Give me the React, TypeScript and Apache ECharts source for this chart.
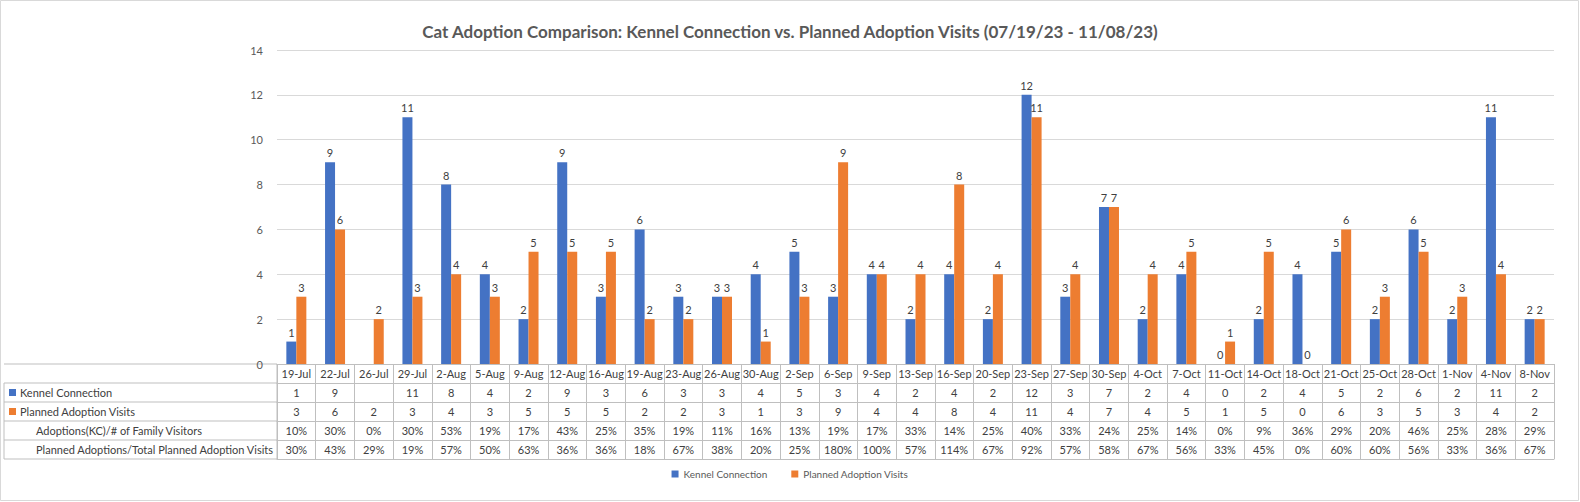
import React, { useEffect, useRef } from 'react';
import * as echarts from 'echarts';

const categories = ['19-Jul','22-Jul','26-Jul','29-Jul','2-Aug','5-Aug','9-Aug','12-Aug','16-Aug','19-Aug','23-Aug','26-Aug','30-Aug','2-Sep','6-Sep','9-Sep','13-Sep','16-Sep','20-Sep','23-Sep','27-Sep','30-Sep','4-Oct','7-Oct','11-Oct','14-Oct','18-Oct','21-Oct','25-Oct','28-Oct','1-Nov','4-Nov','8-Nov'];
const kennel = [1,9,null,11,8,4,2,9,3,6,3,3,4,5,3,4,2,4,2,12,3,7,2,4,0,2,4,5,2,6,2,11,2];
const planned = [3,6,2,3,4,3,5,5,5,2,2,3,1,3,9,4,4,8,4,11,4,7,4,5,1,5,0,6,3,5,3,4,2];
const kcRatio = ['10%','30%','0%','30%','53%','19%','17%','43%','25%','35%','19%','11%','16%','13%','19%','17%','33%','14%','25%','40%','33%','24%','25%','14%','0%','9%','36%','29%','20%','46%','25%','28%','29%'];
const plannedRatio = ['30%','43%','29%','19%','57%','50%','63%','36%','36%','18%','67%','38%','20%','25%','180%','100%','57%','114%','67%','92%','57%','58%','67%','56%','33%','45%','0%','60%','60%','56%','33%','36%','67%'];
const rowNames = ['Kennel Connection','Planned Adoption Visits','Adoptions(KC)/# of Family Visitors','Planned Adoptions/Total Planned Adoption Visits'];

const BLUE = '#4472c4';
const ORANGE = '#ed7d31';
const FONT = 'Lato, "Open Sans", sans-serif';
const LINE = '#bfbfbf';

const App: React.FC = () => {
  const ref = useRef<HTMLDivElement>(null);

  useEffect(() => {
    document.body.style.margin = '0';
    document.body.style.overflow = 'hidden';
    if (!ref.current) return;
    const chart = echarts.init(ref.current, null, { renderer: 'svg' });
    const left = 277;
    const right = 26;
    const top = 50;
    const base = 364;
    const rowH = 19;
    const rows = [
      categories,
      kennel.map((v) => (v == null ? '' : String(v))),
      planned.map(String),
      kcRatio,
      plannedRatio,
    ];
    const xAxes: any[] = rows.map((d, i) => ({
      type: 'category',
      gridIndex: 0,
      position: 'bottom',
      offset: i * rowH,
      data: i === 0 ? d : d.map((v, j) => ({ value: j + ':' + v })),
      axisLine: { show: true, lineStyle: { color: LINE } },
      axisTick: { show: true, interval: 0, length: rowH, lineStyle: { color: LINE } },
      axisLabel: {
        interval: 0,
        margin: 4,
        fontSize: 11,
        color: '#404040',
        fontFamily: FONT,
        formatter: i === 0 ? undefined : (v: string) => v.slice(v.indexOf(':') + 1),
      },
    }));
    xAxes.push({
      type: 'category',
      gridIndex: 0,
      position: 'bottom',
      offset: 5 * rowH,
      data: categories,
      axisLine: { show: true, lineStyle: { color: LINE } },
      axisTick: { show: false },
      axisLabel: { show: false },
    });

    const graphics: any[] = [];
    for (let r = 0; r <= 5; r++) {
      graphics.push({
        type: 'line',
        shape: { x1: 4, y1: base + r * rowH, x2: left, y2: base + r * rowH },
        style: { stroke: LINE, lineWidth: 1 },
      });
    }
    graphics.push({ type: 'line', shape: { x1: 4, y1: base + rowH, x2: 4, y2: base + 5 * rowH }, style: { stroke: LINE } });
    graphics.push({ type: 'line', shape: { x1: left, y1: base, x2: left, y2: base + 5 * rowH }, style: { stroke: LINE } });
    rowNames.forEach((name, i) => {
      const cy = base + (i + 1.5) * rowH;
      if (i < 2) {
        graphics.push({ type: 'rect', shape: { x: 9, y: cy - 3.5, width: 7, height: 7 }, style: { fill: i === 0 ? BLUE : ORANGE } });
      }
      graphics.push({
        type: 'text',
        x: i < 2 ? 20 : 36,
        y: cy,
        style: { text: name, fill: '#404040', font: `11px ${FONT}`, textVerticalAlign: 'middle' },
      });
    });
    graphics.push({ type: 'rect', shape: { x: 0.5, y: 0.5, width: 1578, height: 500 }, style: { fill: 'none', stroke: '#d9d9d9' } });

    const label = { show: true, position: 'top', fontSize: 11, color: '#404040', fontFamily: FONT, distance: 4 };
    chart.setOption({
      animation: false,
      textStyle: { fontFamily: FONT },
      title: {
        text: 'Cat Adoption Comparison: Kennel Connection vs. Planned Adoption Visits (07/19/23 - 11/08/23)',
        left: 'center',
        top: 18,
        textStyle: { fontSize: 17, fontWeight: 'bold', color: '#595959', fontFamily: FONT },
      },
      grid: { left, right, top, bottom: 502 - base },
      xAxis: xAxes,
      yAxis: {
        type: 'value',
        min: 0,
        max: 14,
        interval: 2,
        axisLine: { show: false },
        axisTick: { show: false },
        axisLabel: { fontSize: 11, color: '#595959', margin: 14 },
        splitLine: { lineStyle: { color: '#d9d9d9' } },
      },
      legend: {
        bottom: 18,
        left: 'center',
        itemWidth: 7,
        itemHeight: 7,
        icon: 'rect',
        itemGap: 24,
        textStyle: { fontSize: 10, color: '#595959' },
        data: ['Kennel Connection', 'Planned Adoption Visits'],
      },
      graphic: graphics,
      series: [
        { name: 'Kennel Connection', type: 'bar', xAxisIndex: 0, data: kennel, barWidth: 10, barGap: '0%', itemStyle: { color: BLUE }, label },
        { name: 'Planned Adoption Visits', type: 'bar', xAxisIndex: 0, data: planned, barWidth: 10, barGap: '0%', itemStyle: { color: ORANGE }, label },
      ],
    });
    return () => chart.dispose();
  }, []);

  return <div ref={ref} style={{ width: 1580, height: 502, display: 'block' }} />;
};

export default App;
